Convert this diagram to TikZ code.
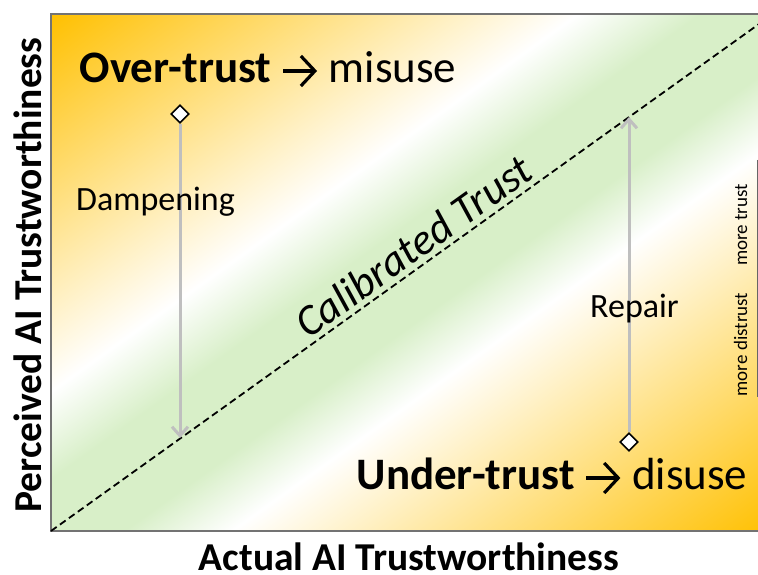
\documentclass[tikz,border=0pt]{standalone}
\usepackage{fontspec}
\setmainfont{Carlito}
\usetikzlibrary{positioning, shapes.geometric, arrows.meta}
\definecolor{trustorange}{RGB}{255,192,0}
\definecolor{trustgreen}{RGB}{216,239,200}
\definecolor{framegray}{RGB}{115,115,115}
\definecolor{arrowgray}{RGB}{191,191,191}
\pgfdeclareverticalshading{trustband}{100bp}{color(0bp)=(trustorange); color(25bp)=(trustorange);
  color(43.75bp)=(white); color(47.5bp)=(trustgreen); color(52.5bp)=(trustgreen);
  color(56.75bp)=(white); color(75bp)=(trustorange); color(100bp)=(trustorange)}
\newcommand{\trustarrow}{\tikz[baseline=-12pt]\draw[line width=3.2pt,-{Straight Barb[length=14pt,width=30pt]}](0pt,0pt)--(34pt,0pt);}
\tikzset{heading/.style={anchor=base,font=\fontsize{45}{50}\selectfont},
         axislabel/.style={anchor=base,font=\bfseries\fontsize{39.5}{45}\selectfont},
         movelabel/.style={anchor=base,font=\fontsize{34}{40}\selectfont},
         sidelabel/.style={anchor=base,rotate=90,font=\fontsize{19}{23}\selectfont},
         calibtext/.style={anchor=base,rotate=35.6,inner sep=0pt,font=\itshape\fontsize{43.5}{48}\selectfont},
         calibline/.style={draw,dashed,dash pattern=on 7pt off 4pt,line width=1.8pt},
         marker/.style={draw,diamond,fill=white,line width=1.6pt,minimum size=18pt,inner sep=0pt},
         movearrow/.style={draw=arrowgray,line width=3pt,-{Straight Barb[length=9pt,width=16pt]}}}

\begin{document}
\begin{tikzpicture}[x=1pt,y=1pt]
        \useasboundingbox(0,0)rectangle(758,575);
        \begin{scope}
        \clip(51,44)rectangle(773,561);
        \begin{scope}[transform canvas={shift={(412,302.5)},rotate=35.6}]
        \shade[shading=trustband](-500,-420.3)rectangle(500,420.3);
        \end{scope}
        \end{scope}
        \draw[framegray,line width=2pt](773,561)--(51,561)--(51,44)--(773,44);

        \coordinate(origin)at(51,44);
        \coordinate(corner)at(773,561);
        \draw[calibline](origin)--(corner);
        \node[calibtext](calib)at(422,317){Calibrated Trust};

        \node[heading](over)at(268,492){\textbf{Over-trust} \trustarrow{} misuse};
        \node[heading](under)at(552,85){\textbf{Under-trust} \trustarrow{} disuse};

        \node[marker](dhigh)at(180,461){};
        \coordinate(dlow)at(180,137);
        \draw[movearrow](dhigh)--(dlow);
        \node[movelabel](damp)at(155.5,364){Dampening};

        \node[marker](rlow)at(629,133){};
        \coordinate(rhigh)at(629,458);
        \draw[movearrow](rlow)--(rhigh);
        \node[movelabel](repair)at(634.5,257){Repair};

        \node[sidelabel](moretrust)at(747,350){more trust};
        \node[sidelabel](moredistrust)at(747,230.5){more distrust};
        \coordinate(edgetop)at(757.5,415);
        \coordinate(edgebot)at(757.5,178);
        \draw[black!60,line width=0.8pt](edgetop)--(edgebot);

        \node[axislabel](xlabel)at(409,4){Actual AI Trustworthiness};
        \node[axislabel,rotate=90](ylabel)at(41,300){Perceived AI Trustworthiness};
    \end{tikzpicture}
\end{document}
